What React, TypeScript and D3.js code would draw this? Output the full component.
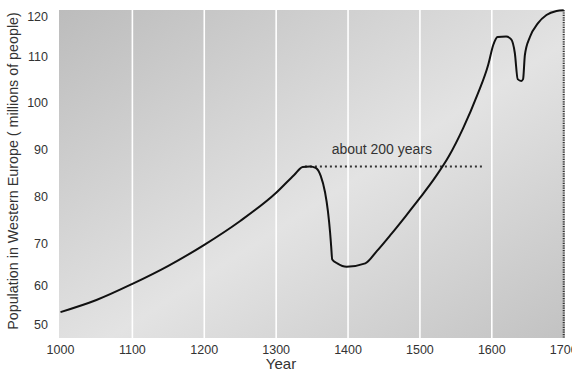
import React from "react";
import * as d3 from "d3";

const years = [1000, 1050, 1100, 1150, 1200, 1250, 1300, 1325, 1337, 1347, 1355, 1362, 1368, 1372, 1375, 1376.5, 1378, 1385, 1398, 1424, 1440, 1460, 1480, 1500, 1520, 1540, 1560, 1580, 1595, 1602, 1608, 1620, 1627, 1632, 1636, 1641, 1643.5, 1646, 1653, 1664, 1676, 1690, 1700];
const population = [53.3, 56.4, 60.5, 64.8, 69.8, 74.9, 80.9, 84.7, 86.4, 86.5, 86.2, 84.5, 81.0, 77.0, 72.5, 69.5, 66.3, 65.4, 64.6, 65.4, 68.3, 72.1, 75.9, 79.8, 83.9, 88.6, 94.6, 101.8, 108.3, 113.0, 115.0, 115.1, 114.4, 111.0, 105.2, 104.8, 105.2, 110.5, 115.0, 118.4, 120.5, 121.5, 121.7];

const xTicks = [1000, 1100, 1200, 1300, 1400, 1500, 1600, 1700];
const gridYears = [1100, 1200, 1300, 1400, 1500, 1600];
const yTicks = [50, 60, 70, 80, 90, 100, 110, 120];
const yTickPos = [325, 286, 244, 197, 150, 103, 57, 17];
const annotationYears = [1340, 1590];
const annotationValue = 86.5;
const annotationText = "about 200 years";

export default function App() {
  const W = 572, H = 372;
  const left = 59, right = 565, top = 10, bottom = 338;
  const x = d3.scaleLinear().domain([1000, 1700]).range([60.5, 563.7]);
  const y = d3.scaleLinear().domain(yTicks).range(yTickPos);
  const data = years.map((yr, i) => ({ yr, v: population[i] }));
  const line = d3
    .line<{ yr: number; v: number }>()
    .x((d) => x(d.yr))
    .y((d) => y(d.v))
    .curve(d3.curveMonotoneX);
  const font = "Liberation Sans, Arial, Helvetica, sans-serif";
  return (
    <svg width={W} height={H} style={{ position: "absolute", left: 0, top: 0 }} fontFamily={font}>
      <defs>
        <linearGradient id="bg" x1="0" y1="0" x2="1" y2="1">
          <stop offset="0" stopColor="#bcbcbc" />
          <stop offset="0.55" stopColor="#e3e3e3" />
          <stop offset="1" stopColor="#c2c2c2" />
        </linearGradient>
      </defs>
      <rect x={0} y={0} width={W} height={H} fill="#ffffff" />
      <rect x={left} y={top} width={right - left} height={bottom - top} fill="url(#bg)" />
      {gridYears.map((g) => (
        <line key={g} x1={x(g)} x2={x(g)} y1={top} y2={bottom} stroke="#ffffff" strokeWidth={1.6} />
      ))}
      <line x1={x(1700)} x2={x(1700)} y1={top} y2={bottom} stroke="#333" strokeWidth={2} strokeDasharray="1.2,1.2" />
      <line
        x1={x(annotationYears[0])}
        x2={x(annotationYears[1])}
        y1={y(annotationValue)}
        y2={y(annotationValue)}
        stroke="#333"
        strokeWidth={2}
        strokeDasharray="2,3"
      />
      <text x={x(1447)} y={y(annotationValue) - 12} textAnchor="middle" fontSize={14} fill="#333">
        {annotationText}
      </text>
      <path d={line(data) || ""} fill="none" stroke="#111" strokeWidth={2} strokeLinejoin="round" />
      {yTicks.map((t) => (
        <text key={t} x={48} y={y(t)} textAnchor="end" dominantBaseline="central" fontSize={12.5} fill="#333">
          {t}
        </text>
      ))}
      {xTicks.map((t) => (
        <text key={t} x={x(t)} y={354} textAnchor="middle" fontSize={12.5} fill="#333">
          {t}
        </text>
      ))}
      <text x={281} y={369} textAnchor="middle" fontSize={15} fill="#333">
        Year
      </text>
      <text
        transform={`translate(18, 171) rotate(-90)`}
        textAnchor="middle"
        fontSize={14.3}
        fill="#333"
      >
        Population in Western Europe ( millions of people)
      </text>
    </svg>
  );
}
